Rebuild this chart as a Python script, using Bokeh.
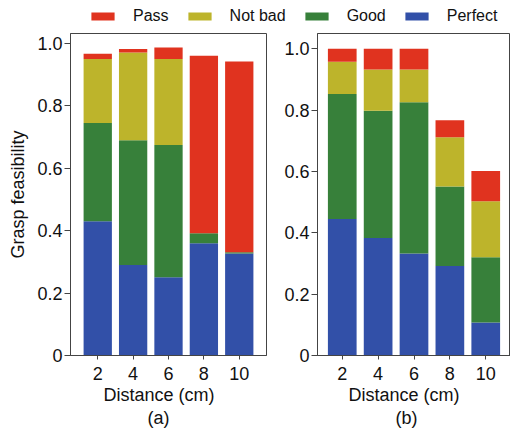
from bokeh.plotting import figure
from bokeh.models import FactorRange, Range1d, Legend, LegendItem, Title, PrintfTickFormatter
from bokeh.layouts import column, row
from bokeh.embed import file_html
from bokeh.resources import INLINE

distances = ["2", "4", "6", "8", "10"]
levels = ["Perfect", "Good", "Not bad", "Pass"]
colors = ["#3250A8", "#37803A", "#BDB42B", "#E0331F"]
y_ticks = [0, 0.2, 0.4, 0.6, 0.8, 1.0]

# (a) segment heights
a_perfect = [0.430, 0.290, 0.251, 0.360, 0.327]
a_good = [0.315, 0.400, 0.424, 0.032, 0.004]
a_notbad = [0.205, 0.281, 0.275, 0.0, 0.0]
a_pass = [0.017, 0.011, 0.037, 0.569, 0.611]

# (b) segment heights
b_perfect = [0.445, 0.383, 0.333, 0.292, 0.108]
b_good = [0.408, 0.415, 0.493, 0.259, 0.212]
b_notbad = [0.105, 0.135, 0.107, 0.161, 0.183]
b_pass = [0.042, 0.067, 0.067, 0.055, 0.099]

FONT = "Liberation Sans"
AXC = "#444444"
TXT = "#111111"


def make_panel(perfect, good, notbad, passed, y_end, width, height, min_left,
               min_right, pad, sub, lab_off, sub_off, ylabel=None):
    p = figure(x_range=FactorRange(*distances, range_padding=pad,
                                   range_padding_units="absolute"),
               y_range=Range1d(0, y_end), width=width, height=height,
               toolbar_location=None, output_backend="svg",
               min_border_left=min_left, min_border_right=min_right,
               min_border_top=3, min_border_bottom=0)
    src = dict(x=distances, Perfect=perfect, Good=good, **{"Not bad": notbad},
               Pass=passed)
    p.vbar_stack(levels, x="x", width=0.8, fill_color=colors,
                 line_color=None, source=src)
    p.grid.grid_line_color = None
    p.outline_line_color = AXC
    p.outline_line_width = 1
    for ax in (p.xaxis, p.yaxis):
        ax.axis_line_color = AXC
        ax.major_tick_line_color = AXC
        ax.minor_tick_line_color = None
        ax.major_tick_in = 0
        ax.major_label_text_font = FONT
        ax.major_label_text_font_size = "18px"
        ax.major_label_text_color = TXT
        ax.axis_label_text_font = FONT
        ax.axis_label_text_font_size = "18px"
        ax.axis_label_text_font_style = "normal"
        ax.axis_label_text_color = TXT
    p.xaxis.major_tick_out = 4
    p.xaxis.major_label_standoff = 7
    p.yaxis.major_tick_out = 6
    p.yaxis.major_label_standoff = 2
    p.yaxis.ticker = y_ticks
    p.yaxis.formatter = PrintfTickFormatter(format="%.1f")
    p.yaxis.major_label_overrides = {0: "0"}
    if ylabel:
        p.yaxis.axis_label = ylabel
        p.yaxis.axis_label_standoff = 6
    t1 = Title(text="Distance (cm)", align="left", offset=lab_off,
               text_font=FONT, text_font_size="18px",
               text_font_style="normal", text_color=TXT, standoff=0)
    p.add_layout(t1, "below")
    t2 = Title(text=sub, align="left", offset=sub_off, text_font=FONT,
               text_font_size="18px", text_font_style="normal",
               text_color=TXT, standoff=2)
    p.add_layout(t2, "below")
    return p


pa = make_panel(a_perfect, a_good, a_notbad, a_pass, 1.032, 268, 398, 70, 2,
                0.27, "(a)", 33, 77, "Grasp feasibility")
pb = make_panel(b_perfect, b_good, b_notbad, b_pass, 1.05, 242, 398, 49, 0,
                0.19, "(b)", 31, 78)

leg = figure(width=510, height=30, x_range=(0, 1), y_range=(0, 1),
             toolbar_location=None, output_backend="svg", min_border=0,
             outline_line_color=None)
leg.axis.visible = False
leg.grid.grid_line_color = None
items = []
for name, c in zip(["Pass", "Not bad", "Good", "Perfect"],
                   [colors[3], colors[2], colors[1], colors[0]]):
    r = leg.vbar(x=[0.5], top=[0], width=0, fill_color=c, line_color=None)
    items.append(LegendItem(label=name, renderers=[r]))
legend = Legend(items=items, orientation="horizontal", location=(88, 5),
                glyph_width=29, glyph_height=10,
                label_text_font=FONT, label_text_font_size="16px",
                label_text_color=TXT, spacing=16, label_standoff=16,
                padding=0, margin=0, border_line_color=None,
                background_fill_alpha=0)
leg.add_layout(legend)

layout = column(leg, row(pa, pb, spacing=0), spacing=0)
open("out.html", "w").write(file_html(layout, INLINE))
